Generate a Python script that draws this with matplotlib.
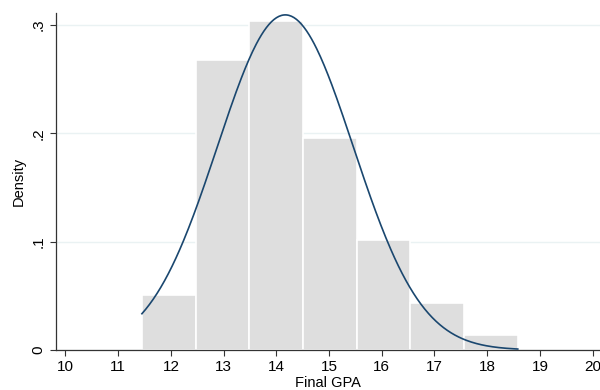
import matplotlib
matplotlib.use("Agg")
import matplotlib.pyplot as plt
import numpy as np

# ── Datos ─────────────────────────────────────────────────────────────────────
x_min, x_max = 11.45, 18.58          # rango de los datos
n_bins    = 7
densities = [0.0505, 0.268, 0.304, 0.196, 0.1015, 0.043, 0.014]

# ajuste normal (media, desv. estándar)
mu, sigma = 14.17, 1.29

x_ticks = list(range(10, 21))
y_ticks = [0, 0.1, 0.2, 0.3]
y_labels = ["0", ".1", ".2", ".3"]

BAR_CLR  = "#dedede"
LINE_CLR = "#1a476f"
GRID_CLR = "#eaf2f3"

plt.rcParams["font.family"] = ["Liberation Sans", "DejaVu Sans"]

fig = plt.figure(figsize=(6, 3.9), dpi=100)
ax = fig.add_axes([56 / 600, 40 / 390, 544 / 600, 337 / 390])

bin_width = (x_max - x_min) / n_bins
bin_left = x_min + bin_width * np.arange(n_bins)
ax.bar(bin_left, densities, width=bin_width, align="edge", color=BAR_CLR,
       edgecolor="white", linewidth=1.2, zorder=2)

xs = np.linspace(x_min, x_max, 300)
pdf = np.exp(-0.5 * ((xs - mu) / sigma) ** 2) / (sigma * np.sqrt(2 * np.pi))
ax.plot(xs, pdf, color=LINE_CLR, linewidth=1.2, zorder=3)

ax.set_xlim(9.82, 20.14)
ax.set_ylim(0, 0.311)
ax.set_xticks(x_ticks)
ax.set_yticks(y_ticks)
ax.set_yticklabels(y_labels, rotation=90, va="center")
ax.tick_params(labelsize=11, length=4, width=0.8, color="#333333")
ax.grid(axis="y", color=GRID_CLR, linewidth=1, zorder=0)
ax.set_axisbelow(True)

for s in ["top", "right"]:
    ax.spines[s].set_visible(False)
for s in ["left", "bottom"]:
    ax.spines[s].set_color("#333333")
    ax.spines[s].set_linewidth(0.9)

ax.set_xlabel("Final GPA", fontsize=10.5, labelpad=1)
ax.set_ylabel("Density", fontsize=10.5, labelpad=4)

fig.savefig("out.png", dpi=100)
